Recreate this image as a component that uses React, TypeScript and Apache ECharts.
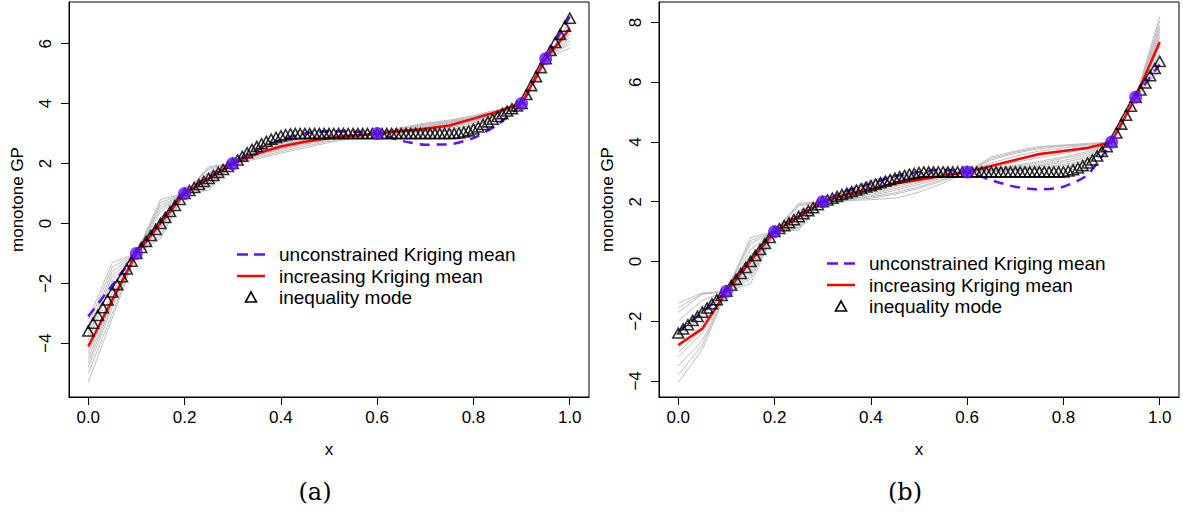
import React, { useEffect, useRef } from "react";
import * as echarts from "echarts";

// knots of the finite-dimensional approximation (x)
const xKnots = [0, 0.05, 0.1, 0.15, 0.2, 0.25, 0.3, 0.35, 0.4, 0.45, 0.5, 0.55, 0.6, 0.65, 0.7, 0.75, 0.8, 0.85, 0.9, 0.95, 1.0];
const xTicks = [0, 0.2, 0.4, 0.6, 0.8, 1.0];

// observations (same in both panels)
const obsX = [0.1, 0.2, 0.3, 0.6, 0.9, 0.95];
const obsY = [-1, 1, 2, 3, 4, 5.5];

// ---------- panel (a) ----------
const yTicksA = [-4, -2, 0, 2, 4, 6];
const redA = [-4.1, -2.55, -1, 0, 1, 1.5, 2, 2.33, 2.57, 2.73, 2.85, 2.93, 3, 3.08, 3.16, 3.27, 3.5, 3.73, 4, 5.5, 6.5];
const dashedA = [-3.1, -2.05, -1, 0.02, 1, 1.55, 2, 2.45, 2.8, 3.0, 3.08, 3.06, 3, 2.76, 2.63, 2.64, 2.85, 3.3, 4, 5.5, 6.9];
const modeA = [
  -3.59, -3.33, -3.07, -2.81, -2.55, -2.29, -2.04, -1.78, -1.52, -1.26, -1.0,
  -0.8, -0.6, -0.4, -0.2, 0.0, 0.2, 0.4, 0.6, 0.8, 1.0,
  1.1, 1.2, 1.3, 1.4, 1.5, 1.6, 1.7, 1.8, 1.9, 2.0,
  2.12, 2.24, 2.36, 2.47, 2.57, 2.66, 2.74, 2.81, 2.87, 2.92, 2.96, 2.99,
  3, 3, 3, 3, 3, 3, 3, 3, 3, 3, 3, 3, 3, 3, 3, 3, 3, 3,
  3, 3, 3, 3, 3, 3, 3, 3, 3, 3, 3, 3, 3, 3, 3, 3,
  3.02, 3.05, 3.09, 3.15, 3.22, 3.3, 3.39, 3.48, 3.57, 3.66, 3.75, 3.83, 3.92, 4.0,
  4.3, 4.6, 4.9, 5.2, 5.5,
  5.77, 6.04, 6.31, 6.58, 6.85,
];
const grayA = [
  [-3.2, -1.3, -1, 0.8, 1, 1.9, 2, 2.55, 2.75, 2.85, 2.92, 2.97, 3, 3.2, 3.35, 3.45, 3.6, 3.8, 4, 5.5, 6.0],
  [-3.6, -1.6, -1, 0.6, 1, 1.8, 2, 2.45, 2.7, 2.82, 2.9, 2.96, 3, 3.15, 3.3, 3.4, 3.55, 3.75, 4, 5.5, 6.2],
  [-3.9, -1.9, -1, 0.4, 1, 1.65, 2, 2.4, 2.62, 2.78, 2.88, 2.95, 3, 3.12, 3.25, 3.38, 3.5, 3.72, 4, 5.5, 6.35],
  [-4.2, -2.3, -1, 0.2, 1, 1.5, 2, 2.35, 2.58, 2.74, 2.86, 2.94, 3, 3.1, 3.2, 3.32, 3.48, 3.7, 4, 5.5, 6.45],
  [-4.5, -2.6, -1, 0.0, 1, 1.4, 2, 2.3, 2.52, 2.7, 2.82, 2.92, 3, 3.08, 3.16, 3.28, 3.45, 3.68, 4, 5.5, 6.55],
  [-4.8, -2.8, -1, -0.2, 1, 1.3, 2, 2.25, 2.46, 2.64, 2.78, 2.9, 3, 3.06, 3.12, 3.22, 3.4, 3.65, 4, 5.5, 6.6],
  [-5.0, -3.0, -1, -0.4, 1, 1.2, 2, 2.2, 2.4, 2.58, 2.74, 2.87, 3, 3.04, 3.1, 3.18, 3.35, 3.6, 4, 5.5, 6.7],
  [-5.3, -3.15, -1, -0.5, 1, 1.1, 2, 2.15, 2.35, 2.52, 2.7, 2.85, 3, 3.02, 3.06, 3.12, 3.28, 3.5, 4, 5.5, 5.85],
  [-3.4, -1.45, -1, 0.7, 1, 1.85, 2, 2.5, 2.7, 2.84, 2.92, 2.97, 3, 3.18, 3.32, 3.42, 3.58, 3.78, 4, 5.5, 6.1],
  [-4.35, -2.45, -1, 0.1, 1, 1.45, 2, 2.32, 2.55, 2.72, 2.84, 2.93, 3, 3.1, 3.22, 3.35, 3.5, 3.7, 4, 5.5, 6.5],
  [-4.65, -2.7, -1, -0.1, 1, 1.35, 2, 2.28, 2.5, 2.68, 2.8, 2.91, 3, 3.07, 3.14, 3.25, 3.42, 3.66, 4, 5.5, 6.58],
  [-3.75, -1.75, -1, 0.5, 1, 1.7, 2, 2.42, 2.66, 2.8, 2.89, 2.96, 3, 3.14, 3.28, 3.39, 3.52, 3.74, 4, 5.5, 6.3],
];

// ---------- panel (b) ----------
const yTicksB = [-4, -2, 0, 2, 4, 6, 8];
const redB = [-2.8, -2.25, -1, 0, 1, 1.5, 2, 2.25, 2.43, 2.6, 2.74, 2.87, 3, 3.2, 3.4, 3.6, 3.7, 3.8, 4, 5.5, 7.35];
const dashedB = [-2.35, -1.7, -1, 0, 1, 1.55, 2, 2.35, 2.6, 2.85, 3.0, 3.06, 3, 2.72, 2.5, 2.41, 2.5, 2.9, 4, 5.5, 6.6];
const modeB = [
  -2.4, -2.26, -2.12, -1.98, -1.84, -1.7, -1.56, -1.42, -1.28, -1.14, -1.0,
  -0.8, -0.6, -0.4, -0.2, 0.0, 0.2, 0.4, 0.6, 0.8, 1.0,
  1.1, 1.2, 1.3, 1.4, 1.5, 1.6, 1.7, 1.8, 1.9, 2.0,
  2.06, 2.12, 2.18, 2.24, 2.29, 2.34, 2.39, 2.44, 2.49, 2.54, 2.59, 2.64, 2.69, 2.74, 2.79, 2.84, 2.88, 2.92, 2.95, 2.98, 3.0,
  3, 3, 3, 3, 3, 3, 3, 3, 3, 3, 3, 3, 3, 3, 3, 3, 3, 3, 3, 3, 3, 3, 3, 3, 3, 3, 3, 3, 3,
  3.03, 3.07, 3.13, 3.21, 3.3, 3.4, 3.53, 3.68, 3.84, 4.0,
  4.3, 4.6, 4.9, 5.2, 5.5,
  5.74, 5.98, 6.22, 6.46, 6.7,
];
const grayB = [
  [-1.4, -1.05, -1, 0.8, 1, 1.95, 2, 2.4, 2.72, 2.89, 2.97, 3.0, 3, 3.5, 3.7, 3.85, 3.9, 3.95, 4, 5.5, 6.4],
  [-1.7, -1.1, -1, 0.6, 1, 1.85, 2, 2.35, 2.62, 2.82, 2.94, 2.99, 3, 3.4, 3.62, 3.78, 3.86, 3.92, 4, 5.5, 6.7],
  [-2.0, -1.3, -1, 0.4, 1, 1.7, 2, 2.3, 2.55, 2.75, 2.9, 2.98, 3, 3.3, 3.52, 3.7, 3.8, 3.9, 4, 5.5, 7.0],
  [-2.3, -1.5, -1, 0.2, 1, 1.55, 2, 2.25, 2.48, 2.68, 2.85, 2.96, 3, 3.22, 3.42, 3.6, 3.72, 3.85, 4, 5.5, 7.3],
  [-2.6, -1.8, -1, 0.0, 1, 1.4, 2, 2.2, 2.4, 2.6, 2.78, 2.93, 3, 3.15, 3.32, 3.48, 3.62, 3.78, 4, 5.5, 7.5],
  [-2.9, -2.1, -1, -0.2, 1, 1.3, 2, 2.15, 2.3, 2.5, 2.7, 2.88, 3, 3.1, 3.22, 3.35, 3.5, 3.68, 4, 5.5, 7.7],
  [-3.2, -2.4, -1, -0.4, 1, 1.2, 2, 2.1, 2.2, 2.38, 2.58, 2.8, 3, 3.05, 3.14, 3.24, 3.38, 3.55, 4, 5.5, 7.9],
  [-3.5, -2.65, -1, -0.6, 1, 1.1, 2, 2.06, 2.12, 2.25, 2.45, 2.7, 3, 3.02, 3.08, 3.15, 3.25, 3.4, 4, 5.5, 8.05],
  [-3.8, -2.8, -1, -0.75, 1, 1.05, 2, 2.03, 2.07, 2.12, 2.32, 2.62, 3, 3.0, 3.04, 3.1, 3.2, 3.3, 4, 5.5, 8.2],
  [-4.05, -2.95, -1, -0.5, 1, 1.15, 2, 2.08, 2.16, 2.3, 2.5, 2.75, 3, 3.04, 3.1, 3.2, 3.32, 3.48, 4, 5.5, 7.8],
  [-2.45, -1.65, -1, 0.1, 1, 1.5, 2, 2.22, 2.44, 2.64, 2.82, 2.94, 3, 3.2, 3.38, 3.55, 3.68, 3.82, 4, 5.5, 7.2],
  [-3.05, -2.25, -1, -0.3, 1, 1.25, 2, 2.12, 2.25, 2.44, 2.64, 2.84, 3, 3.08, 3.18, 3.3, 3.45, 3.62, 4, 5.5, 7.6],
  [-1.55, -1.08, -1, 0.7, 1, 1.9, 2, 2.38, 2.68, 2.86, 2.96, 2.99, 3, 3.45, 3.66, 3.82, 3.88, 3.94, 4, 5.5, 6.55],
];

const legendLabels = ["unconstrained Kriging mean", "increasing Kriging mean", "inequality mode"];

const PURPLE = "#6010FF";
const RED = "#FF0000";
const GRAY = "#BEBEBE";
const SANS = '"Liberation Sans", Arial, Helvetica, sans-serif';
const SERIF = '"DejaVu Serif", "Liberation Serif", serif';

const fmtNum = (v: number, d: number) => {
  const s = Math.abs(v).toFixed(d);
  return v < 0 ? "\u2212" + s : s;
};

function panelSeries(idx: number, grays: number[][], red: number[], dashed: number[], mode: number[]) {
  const s: any[] = [];
  grays.forEach((g, k) => {
    s.push({
      type: "line",
      name: "sample" + idx + "_" + k,
      xAxisIndex: idx,
      yAxisIndex: idx,
      data: xKnots.map((x, i) => [x, g[i]]),
      showSymbol: false,
      symbol: "none",
      lineStyle: { color: GRAY, width: 1 },
      z: 1,
      silent: true,
    });
  });
  s.push({
    type: "line",
    name: legendLabels[0],
    xAxisIndex: idx,
    yAxisIndex: idx,
    data: xKnots.map((x, i) => [x, dashed[i]]),
    smooth: 0.2,
    showSymbol: false,
    symbol: "none",
    lineStyle: { color: PURPLE, width: 2.5, type: [10, 7] },
    z: 3,
  });
  s.push({
    type: "line",
    name: legendLabels[1],
    xAxisIndex: idx,
    yAxisIndex: idx,
    data: xKnots.map((x, i) => [x, red[i]]),
    showSymbol: false,
    symbol: "none",
    lineStyle: { color: RED, width: 2.5 },
    z: 4,
  });
  s.push({
    type: "scatter",
    name: legendLabels[2],
    xAxisIndex: idx,
    yAxisIndex: idx,
    data: mode.map((y, i) => [i / 100, y]),
    symbol: "triangle",
    symbolSize: [11, 10],
    itemStyle: { color: "rgba(0,0,0,0)", borderColor: "#000", borderWidth: 1.6 },
    z: 5,
  });
  s.push({
    type: "scatter",
    name: "observations",
    xAxisIndex: idx,
    yAxisIndex: idx,
    data: obsX.map((x, i) => [x, obsY[i]]),
    symbol: "circle",
    symbolSize: 13,
    itemStyle: { color: PURPLE },
    z: 6,
  });
  return s;
}

// legend centred on its middle row (ym)
function legendGraphics(x0: number, ym: number) {
  const gap = 21.5;
  const tx = x0 + 42;
  const cx = x0 + 14;
  const rows = [ym - gap, ym, ym + gap];
  const y3 = rows[2];
  const els: any[] = [
    { type: "line", shape: { x1: x0, y1: rows[0], x2: x0 + 28, y2: rows[0] }, style: { stroke: PURPLE, lineWidth: 2.5, lineDash: [11, 6] }, z: 100 },
    { type: "line", shape: { x1: x0, y1: rows[1], x2: x0 + 28, y2: rows[1] }, style: { stroke: RED, lineWidth: 2.5 }, z: 100 },
    {
      type: "polygon",
      shape: { points: [[cx - 5.5, y3 + 4.5], [cx + 5.5, y3 + 4.5], [cx, y3 - 5.5]] },
      style: { fill: "none", stroke: "#000", lineWidth: 1.6 },
      z: 100,
    },
  ];
  legendLabels.forEach((t, i) => {
    els.push({
      type: "text",
      x: tx,
      y: rows[i],
      style: { text: t, fontSize: 19, fontFamily: SANS, fill: "#000", align: "left", verticalAlign: "middle" },
      z: 100,
    });
  });
  return els;
}

function xAxisCfg(idx: number) {
  return {
    type: "value",
    gridIndex: idx,
    min: -0.04,
    max: 1.04,
    name: "x",
    nameLocation: "middle",
    nameGap: 44,
    nameTextStyle: { fontSize: 17, fontFamily: SANS, color: "#000" },
    axisLine: { show: true, onZero: false, lineStyle: { color: "#000", width: 1 } },
    axisTick: { show: true, length: 8, customValues: xTicks, lineStyle: { color: "#000" } },
    axisLabel: {
      customValues: xTicks,
      formatter: (v: number) => fmtNum(v, 1),
      fontSize: 17,
      fontFamily: SANS,
      color: "#000",
      margin: 12,
    },
    splitLine: { show: false },
  };
}

function yAxisCfg(idx: number, min: number, max: number, ticks: number[]) {
  return {
    type: "value",
    gridIndex: idx,
    min,
    max,
    name: "monotone GP",
    nameLocation: "middle",
    nameRotate: 90,
    nameGap: 43,
    nameTextStyle: { fontSize: 17, fontFamily: SANS, color: "#000" },
    axisLine: { show: true, onZero: false, lineStyle: { color: "#000", width: 1 } },
    axisTick: { show: true, length: 8, customValues: ticks, lineStyle: { color: "#000" } },
    axisLabel: {
      customValues: ticks,
      formatter: (v: number) => fmtNum(v, 0),
      rotate: 90,
      fontSize: 17,
      fontFamily: SANS,
      color: "#000",
      margin: 15,
    },
    splitLine: { show: false },
  };
}

export default function App() {
  const ref = useRef<HTMLDivElement>(null);
  useEffect(() => {
    document.body.style.margin = "0";
    const chart = echarts.init(ref.current!, undefined, { renderer: "svg" });
    chart.setOption({
      animation: false,
      backgroundColor: "#fff",
      grid: [
        { left: 69, top: 2, width: 520, height: 395, show: true, borderColor: "#000", borderWidth: 1, backgroundColor: "transparent" },
        { left: 659, top: 2, width: 520, height: 395, show: true, borderColor: "#000", borderWidth: 1, backgroundColor: "transparent" },
      ],
      xAxis: [xAxisCfg(0), xAxisCfg(1)],
      yAxis: [yAxisCfg(0, -5.79, 7.39, yTicksA), yAxisCfg(1, -4.54, 8.69, yTicksB)],
      series: [
        ...panelSeries(0, grayA, redA, dashedA, modeA),
        ...panelSeries(1, grayB, redB, dashedB, modeB),
      ],
      graphic: [
        ...legendGraphics(237, 276),
        ...legendGraphics(827, 285),
        { type: "text", x: 315, y: 492, style: { text: "(a)", fontSize: 24, fontFamily: SERIF, fill: "#000", align: "center", verticalAlign: "middle" } },
        { type: "text", x: 905, y: 492, style: { text: "(b)", fontSize: 24, fontFamily: SERIF, fill: "#000", align: "center", verticalAlign: "middle" } },
      ],
    });
    return () => chart.dispose();
  }, []);
  return <div ref={ref} style={{ width: 1183, height: 520 }} />;
}
